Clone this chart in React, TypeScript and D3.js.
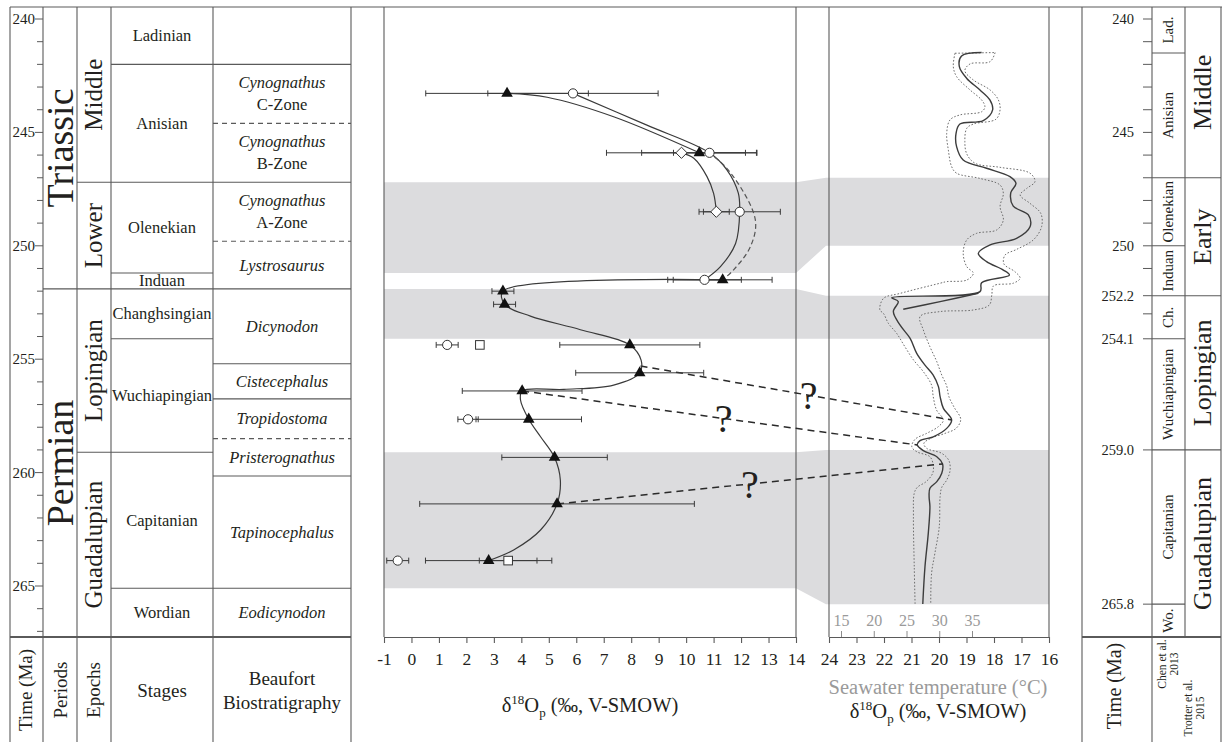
"use client";

import React, { useEffect, useRef } from "react";
import * as d3 from "d3";

// chart extent in Ma
const TOP_AGE = 239.47;
const BASE_AGE = 267.25;

// left column: [label, top age, base age]
const periods: [string, number, number][] = [
  ["Triassic", TOP_AGE, 251.9],
  ["Permian", 251.9, BASE_AGE],
];
const epochs: [string, number, number][] = [
  ["Middle", TOP_AGE, 247.2],
  ["Lower", 247.2, 251.9],
  ["Lopingian", 251.9, 259.1],
  ["Guadalupian", 259.1, BASE_AGE],
];
const stages: [string, number, number][] = [
  ["Ladinian", TOP_AGE, 242.0],
  ["Anisian", 242.0, 247.2],
  ["Olenekian", 247.2, 251.2],
  ["Induan", 251.2, 251.9],
  ["Changhsingian", 251.9, 254.1],
  ["Wuchiapingian", 254.1, 259.1],
  ["Capitanian", 259.1, 265.1],
  ["Wordian", 265.1, BASE_AGE],
];
// Beaufort zones: [genus, sub label, top, base, dashed top boundary]
const zones: [string, string, number, number, boolean][] = [
  ["", "", TOP_AGE, 242.0, false],
  ["Cynognathus", "C-Zone", 242.0, 244.6, false],
  ["Cynognathus", "B-Zone", 244.6, 247.2, true],
  ["Cynognathus", "A-Zone", 247.2, 249.8, false],
  ["Lystrosaurus", "", 249.8, 251.9, true],
  ["Dicynodon", "", 251.9, 255.2, false],
  ["Cistecephalus", "", 255.2, 256.75, false],
  ["Tropidostoma", "", 256.75, 258.5, false],
  ["Pristerognathus", "", 258.5, 260.15, true],
  ["Tapinocephalus", "", 260.15, 265.1, false],
  ["Eodicynodon", "", 265.1, BASE_AGE, false],
];
const leftAgeLabels = [240, 245, 250, 255, 260, 265];

// right column (Chen et al. 2013 / Trotter et al. 2015)
const rightStages: [string, number, number][] = [
  ["Lad.", TOP_AGE, 241.5],
  ["Anisian", 241.5, 247.0],
  ["Olenekian", 247.0, 250.0],
  ["Induan", 250.0, 252.2],
  ["Ch.", 252.2, 254.1],
  ["Wuchiapingian", 254.1, 259.0],
  ["Capitanian", 259.0, 265.8],
  ["Wo.", 265.8, BASE_AGE],
];
const rightEpochs: [string, number, number][] = [
  ["Middle", TOP_AGE, 247.0],
  ["Early", 247.0, 252.2],
  ["Lopingian", 252.2, 259.0],
  ["Guadalupian", 259.0, BASE_AGE],
];
const rightAgeLabels = ["240", "245", "250", "252.2", "254.1", "259.0", "265.8"];
const rightMinorTicks = [241, 242, 243, 244, 246, 247, 248, 249, 251, 253];

// grey bands [top, base] in each panel
const mainBands: [number, number][] = [[247.2, 251.2], [251.9, 254.1], [259.1, 265.1]];
const swBands: [number, number][] = [[247.0, 250.0], [252.2, 254.1], [259.0, 265.8]];

// d18Op of the vertebrate groups: [age, value, 1 sd]
const triangles: [number, number, number][] = [
  [243.28, 3.48, 2.96], [245.9, 10.48, 2.1], [251.5, 11.33, 1.8], [252.0, 3.33, 0.4],
  [252.58, 3.39, 0.4], [254.37, 7.95, 2.55], [255.6, 8.31, 2.33], [256.4, 4.03, 2.18],
  [257.65, 4.27, 1.92], [259.33, 5.21, 1.92], [261.38, 5.3, 5.0], [263.88, 2.81, 2.3],
];
const circles: [number, number, number][] = [
  [243.28, 5.88, 3.1], [245.9, 10.85, 1.31], [248.5, 11.95, 1.48], [251.5, 10.67, 1.34],
  [254.37, 1.3, 0.4], [257.65, 2.06, 0.37], [263.88, -0.5, 0.4],
];
const diamonds: [number, number, number][] = [[245.9, 9.83, 2.73], [248.5, 11.1, 0.47]];
const squares: [number, number, number][] = [[254.37, 2.49, 0.12], [263.88, 3.52, 1.05]];

// trend lines: [age, value]
const triTrendTop: [number, number][] = [[243.28, 3.48], [243.45, 4.94], [244.31, 7.36], [245.9, 10.48]];
const triTrendDashed: [number, number][] = [
  [245.9, 10.48], [246.07, 11.0], [246.95, 11.72], [248.86, 12.52], [250.04, 12.34], [251.07, 11.72], [251.5, 11.33],
];
const triTrendLower: [number, number][] = [
  [251.5, 11.33], [252.0, 3.33], [252.58, 3.39], [253.1, 4.33], [253.7, 6.15], [254.37, 7.95],
  [255.04, 8.36], [255.6, 8.31], [256.14, 7.36], [256.33, 5.55], [256.4, 4.03], [256.8, 3.97],
  [257.65, 4.27], [258.42, 4.7], [259.33, 5.21], [260.33, 5.42], [261.38, 5.3], [262.53, 4.7],
  [263.41, 3.72], [263.88, 2.81],
];
const circleTrend: [number, number][] = [
  [243.28, 5.88], [244.67, 8.55], [245.9, 10.85], [246.66, 11.49], [247.68, 11.9], [248.5, 11.95],
  [249.9, 11.8], [250.92, 11.25], [251.5, 10.67],
];
const diamondTrend: [number, number][] = [[245.9, 9.83], [246.14, 10.28], [246.95, 10.76], [247.69, 11.0], [248.5, 11.1]];

// conodont d18O record (seawater panel): [age, d18O]
const swMid: [number, number][] = [
  [241.48, 18.45], [241.63, 19.18], [242.1, 19.26], [242.62, 18.99], [243.13, 18.51], [243.57, 18.15],
  [244.01, 18.05], [244.48, 18.39], [244.63, 19.24], [245.04, 19.38], [245.63, 19.36], [246.22, 19.12],
  [246.58, 18.27], [246.95, 17.42], [247.25, 17.2], [247.66, 17.39], [248.25, 17.3], [248.64, 16.75],
  [249.16, 16.69], [249.67, 17.18], [249.96, 18.14], [250.33, 18.57], [250.7, 18.27], [251.07, 17.66],
  [251.29, 17.44], [251.63, 18.45], [252.02, 18.51], [252.29, 21.72], [252.46, 21.48], [252.9, 21.66],
  [253.49, 21.42], [254.08, 21.05], [254.74, 20.81], [255.26, 20.51], [255.7, 20.21], [256.21, 20.02],
  [256.65, 19.96], [257.17, 19.84], [257.68, 19.54], [258.05, 19.72], [258.42, 20.21], [258.59, 20.69],
  [258.78, 20.79], [259.03, 20.57], [259.3, 20.08], [259.62, 19.87], [260.03, 19.9], [260.4, 20.08],
  [260.69, 20.33], [261.06, 20.36], [261.5, 20.33], [262.68, 20.39], [264.15, 20.51], [265.79, 20.59],
];
const swBranch: [number, number][] = [[252.1, 18.57], [252.46, 19.96], [252.8, 21.3]];
const swHighD: [number, number][] = [
  [241.51, 19.42], [242.1, 19.48], [242.54, 19.36], [243.13, 18.87], [243.57, 18.45], [243.87, 18.33],
  [244.09, 18.45], [244.23, 19.24], [244.45, 19.6], [245.04, 19.72], [245.78, 19.66], [246.51, 19.54],
  [246.8, 19.36], [247.03, 18.51], [247.32, 17.78], [247.69, 17.66], [248.27, 17.78], [248.86, 17.66],
  [249.3, 17.9], [249.45, 18.63], [249.74, 18.99], [250.33, 19.12], [250.92, 18.99], [251.21, 18.75],
  [251.51, 18.99], [251.58, 19.72], [251.65, 19.96], [252.1, 21.42], [252.32, 22.02], [252.83, 22.15],
  [252.98, 22.02], [253.42, 21.84], [253.86, 21.54], [254.45, 21.24], [255.03, 20.93], [255.55, 20.57],
  [256.14, 20.27], [256.65, 20.21], [257.24, 20.09], [257.68, 19.84], [257.97, 20.02], [258.27, 20.45],
  [258.53, 20.87], [258.86, 20.99], [259.08, 20.81], [259.3, 20.33], [259.67, 20.21], [260.03, 20.23],
  [260.4, 20.47], [260.65, 20.79], [260.91, 20.9], [261.94, 20.93], [264.15, 20.9], [265.79, 20.87],
];
const swLowD: [number, number][] = [
  [241.48, 17.96], [241.88, 18.14], [241.98, 18.87], [242.28, 19.06], [242.69, 18.75], [243.13, 18.14],
  [243.57, 17.84], [244.01, 17.78], [244.42, 17.93], [244.63, 18.75], [244.82, 18.99], [245.41, 19.06],
  [245.95, 18.99], [246.36, 18.69], [246.54, 17.78], [246.8, 16.69], [247.17, 16.51], [247.47, 16.81],
  [247.76, 17.05], [248.13, 16.69], [248.57, 16.3], [249.16, 16.27], [249.74, 16.57], [250.16, 17.18],
  [250.41, 17.6], [250.8, 17.64], [251.14, 17.24], [251.43, 17.05], [251.65, 17.3], [251.77, 18.02],
  [252.17, 18.08], [252.61, 18.17], [252.83, 18.75], [252.9, 19.96], [253.12, 20.69], [253.71, 20.57],
  [254.45, 20.33], [255.11, 20.08], [255.7, 19.9], [256.18, 19.72], [256.65, 19.64], [257.12, 19.45],
  [257.65, 19.21], [258.05, 19.38], [258.27, 19.78], [258.49, 20.3], [258.71, 20.55], [258.93, 20.45],
  [259.15, 19.9], [259.47, 19.64], [259.92, 19.6], [260.33, 19.72], [260.65, 19.9], [261.06, 19.96],
  [262.38, 19.99], [263.56, 20.15], [264.44, 20.27], [265.79, 20.3],
];

// uncertain correlations: main panel [age, value] -> seawater panel [age, d18O], "?" position along the line
const correlations: { from: [number, number]; to: [number, number]; q: number }[] = [
  { from: [255.3, 8.34], to: [257.68, 19.54], q: 0.54 },
  { from: [256.4, 4.03], to: [258.78, 20.79], q: 0.51 },
  { from: [261.38, 5.3], to: [259.62, 19.87], q: 0.5 },
];

const mainTicks = d3.range(-1, 15);
const swTicks = d3.range(16, 25);
const tempTicks = [15, 20, 25, 30, 35];

const FONT = "'Liberation Serif', 'Times New Roman', Times, serif";
const INK = "#231f20";
const RULE = "#5a5a5a";

const App: React.FC = () => {
  const svgRef = useRef<SVGSVGElement | null>(null);

  useEffect(() => {
    const svg = d3.select(svgRef.current);
    svg.selectAll("*").remove();

    const y = d3.scaleLinear().domain([240, 265]).range([19, 586]);
    const xMain = d3.scaleLinear().domain([-1, 14]).range([384, 796]);
    const xSw = d3.scaleLinear().domain([24, 16]).range([829, 1049]);
    const xTemp = d3.scaleLinear().domain([15, 35]).range([841, 972]);

    const yTop = y(TOP_AGE);
    const yBase = y(BASE_AGE);
    const H = 742;

    const text = (
      x: number, yy: number, s: string, size: number,
      o: { italic?: boolean; rot?: boolean; anchor?: string; fill?: string } = {}
    ) => {
      const t = svg.append("text")
        .attr("x", x).attr("y", yy)
        .attr("font-family", FONT).attr("font-size", size)
        .attr("fill", o.fill || INK)
        .attr("text-anchor", o.anchor || "middle")
        .attr("dominant-baseline", "central")
        .text(s);
      if (o.italic) t.attr("font-style", "italic");
      if (o.rot) t.attr("transform", `rotate(-90 ${x} ${yy})`);
      return t;
    };
    const hline = (x0: number, x1: number, yy: number, dash?: string, w = 1.1) => {
      const l = svg.append("line").attr("x1", x0).attr("x2", x1).attr("y1", yy).attr("y2", yy)
        .attr("stroke", RULE).attr("stroke-width", w);
      if (dash) l.attr("stroke-dasharray", dash);
    };
    const vline = (x: number, y0: number, y1: number, w = 1.1) => {
      svg.append("line").attr("x1", x).attr("x2", x).attr("y1", y0).attr("y2", y1)
        .attr("stroke", RULE).attr("stroke-width", w);
    };

    // grey bands with the connectors between panels
    mainBands.forEach((b, i) => {
      const s = swBands[i];
      const pts = [
        [xMain(-1), y(b[0])], [xMain(14), y(b[0])], [826, y(s[0])], [xSw(16), y(s[0])],
        [xSw(16), y(s[1])], [826, y(s[1])], [xMain(14), y(b[1])], [xMain(-1), y(b[1])],
      ];
      svg.append("polygon").attr("points", pts.map((p) => p.join(",")).join(" ")).attr("fill", "#dcdcde");
    });

    // ---------- left stratigraphic column ----------
    const cols = { time: [10, 43], period: [43, 77], epoch: [77, 111], stage: [111, 213], zone: [213, 351] };
    hline(10, 1222, yTop);
    [10, 43, 77, 111, 213, 351].forEach((x) => vline(x, yTop, H));
    hline(10, 351, yBase, undefined, 2);

    d3.range(240, 268).forEach((a) => {
      const major = leftAgeLabels.includes(a);
      svg.append("line").attr("x1", major ? 35 : 37).attr("x2", 43).attr("y1", y(a)).attr("y2", y(a))
        .attr("stroke", RULE).attr("stroke-width", 1);
    });
    leftAgeLabels.forEach((a) => text(35, y(a), String(a), 15, { anchor: "end" }));

    const cellCol = (rows: [string, number, number][], c: number[], size: number, rot: boolean) => {
      rows.forEach(([lab, t, b], i) => {
        if (i > 0) hline(c[0], c[1], y(t));
        text((c[0] + c[1]) / 2, (y(t) + y(b)) / 2, lab, size, { rot });
      });
    };
    cellCol(periods, cols.period, 38, true);
    cellCol(epochs, cols.epoch, 25, true);
    cellCol(stages, cols.stage, 16.5, false);
    zones.forEach(([g, sub, t, b, dashed], i) => {
      if (i > 0) hline(cols.zone[0], cols.zone[1], y(t), dashed ? "5,4" : undefined);
      const cx = (cols.zone[0] + cols.zone[1]) / 2;
      const cy = (y(t) + y(b)) / 2;
      if (sub) {
        text(cx, cy - 11, g, 16.5, { italic: true });
        text(cx, cy + 11, sub, 16.5);
      } else if (g) {
        text(cx, cy, g, 16.5, { italic: true });
      }
    });

    text(25, 690, "Time (Ma)", 19, { rot: true });
    text(60, 690, "Periods", 19, { rot: true });
    text(93, 690, "Epochs", 19, { rot: true });
    text(162, 690, "Stages", 19);
    text(282, 678, "Beaufort", 19);
    text(282, 702, "Biostratigraphy", 19);

    // ---------- main d18Op panel ----------
    vline(xMain(-1), yTop, yBase);
    vline(xMain(14), yTop, yBase);
    const mainAxis = svg.append("g").attr("transform", `translate(0,${yBase})`)
      .call(d3.axisBottom(xMain).tickValues(mainTicks).tickSize(6).tickSizeOuter(0).tickPadding(10).tickFormat((d) => String(d)));
    mainAxis.attr("font-family", FONT).attr("font-size", 17.5);
    mainAxis.selectAll("path, line").attr("stroke", RULE).attr("stroke-width", 1.1);
    mainAxis.selectAll("text").attr("fill", INK);

    const title = (cx: number, yy: number) => {
      const t = svg.append("text").attr("x", cx).attr("y", yy).attr("font-family", FONT)
        .attr("font-size", 20.5).attr("fill", INK).attr("text-anchor", "middle");
      t.append("tspan").text("δ");
      t.append("tspan").attr("dy", -8).attr("font-size", 13).text("18");
      t.append("tspan").attr("dy", 8).text("O");
      t.append("tspan").attr("dy", 5).attr("font-size", 13).text("p");
      t.append("tspan").attr("dy", -5).text(" (‰, V-SMOW)");
    };
    title(590, 712);

    // ---------- seawater panel ----------
    vline(xSw(24), yTop, yBase);
    vline(xSw(16), yTop, yBase);
    const swAxis = svg.append("g").attr("transform", `translate(0,${yBase})`)
      .call(d3.axisBottom(xSw).tickValues(swTicks).tickSize(6).tickSizeOuter(0).tickPadding(10).tickFormat((d) => String(d)));
    swAxis.attr("font-family", FONT).attr("font-size", 17.5);
    swAxis.selectAll("path, line").attr("stroke", RULE).attr("stroke-width", 1.1);
    swAxis.selectAll("text").attr("fill", INK);
    const tAxis = svg.append("g").attr("transform", `translate(0,${yBase})`)
      .call(d3.axisTop(xTemp).tickValues(tempTicks).tickSize(6).tickPadding(5));
    tAxis.attr("font-family", FONT).attr("font-size", 16);
    tAxis.select(".domain").remove();
    tAxis.selectAll("line").attr("stroke", "#8c8c8c");
    tAxis.selectAll("text").attr("fill", "#9a9a9a");
    text(938, 687, "Seawater temperature (°C)", 20.5, { fill: "#9a9a9a" });
    title(938, 718);

    const swLine = d3.line<[number, number]>().x((d) => xSw(d[1])).y((d) => y(d[0])).curve(d3.curveCatmullRom.alpha(0.5));
    [swHighD, swLowD].forEach((d) =>
      svg.append("path").attr("d", swLine(d)).attr("fill", "none").attr("stroke", "#6e6e6e")
        .attr("stroke-width", 1).attr("stroke-dasharray", "1.6,1.8"));
    svg.append("line")
      .attr("x1", xSw(swHighD[0][1])).attr("y1", y(swHighD[0][0]))
      .attr("x2", xSw(swLowD[0][1])).attr("y2", y(swLowD[0][0]))
      .attr("stroke", "#6e6e6e").attr("stroke-width", 1).attr("stroke-dasharray", "1.6,1.8");
    [swMid, swBranch].forEach((d) =>
      svg.append("path").attr("d", swLine(d)).attr("fill", "none").attr("stroke", "#3c3c3c").attr("stroke-width", 1.4));

    // ---------- right time scale ----------
    const rc = { time: [1082, 1152], stage: [1152, 1185], epoch: [1185, 1221] };
    [1082, 1152, 1221].forEach((x) => vline(x, yTop, H));
    vline(1185, yTop, yBase);
    hline(1082, 1221, yBase, undefined, 2);
    const rightAges = rightAgeLabels.map(Number);
    [...rightAges, ...rightMinorTicks].forEach((a) => {
      svg.append("line").attr("x1", 1143).attr("x2", 1152).attr("y1", y(a)).attr("y2", y(a))
        .attr("stroke", RULE).attr("stroke-width", 1);
    });
    rightAgeLabels.forEach((s, i) => text(1134, y(rightAges[i]), s, 14.5, { anchor: "end" }));
    cellCol(rightStages, rc.stage, 15, true);
    cellCol(rightEpochs, rc.epoch, 26, true);
    text(1114, 686, "Time (Ma)", 20, { rot: true });
    text(1162, 664, "Chen et al.", 11.5, { rot: true });
    text(1174, 664, "2013", 11.5, { rot: true });
    text(1188, 708, "Trotter et al.", 11.5, { rot: true });
    text(1200, 708, "2015", 11.5, { rot: true });

    // ---------- uncertain correlations ----------
    correlations.forEach(({ from, to, q }) => {
      const x1 = xMain(from[1]), y1 = y(from[0]);
      const x2 = xSw(to[1]), y2 = y(to[0]);
      svg.append("line").attr("x1", x1).attr("y1", y1).attr("x2", x2).attr("y2", y2)
        .attr("stroke", "#2a2a2a").attr("stroke-width", 1.5).attr("stroke-dasharray", "7,5");
      svg.append("text").attr("x", x1 + (x2 - x1) * q).attr("y", y1 + (y2 - y1) * q + 14)
        .attr("font-family", FONT).attr("font-size", 40).attr("fill", INK)
        .attr("text-anchor", "middle").text("?");
    });

    // ---------- error bars, trends and symbols ----------
    const bars = svg.append("g").attr("stroke", "#3a3a3a").attr("stroke-width", 1);
    [...triangles, ...circles, ...diamonds, ...squares].forEach(([a, v, e]) => {
      const yy = y(a);
      bars.append("line").attr("x1", xMain(v - e)).attr("x2", xMain(v + e)).attr("y1", yy).attr("y2", yy);
      [v - e, v + e].forEach((c) =>
        bars.append("line").attr("x1", xMain(c)).attr("x2", xMain(c)).attr("y1", yy - 3).attr("y2", yy + 3));
    });

    const trend = d3.line<[number, number]>().x((d) => xMain(d[1])).y((d) => y(d[0])).curve(d3.curveCatmullRom.alpha(0.5));
    [triTrendTop, triTrendLower, circleTrend, diamondTrend].forEach((d) =>
      svg.append("path").attr("d", trend(d)).attr("fill", "none").attr("stroke", "#3a3a3a").attr("stroke-width", 1.2));
    svg.append("path").attr("d", trend(triTrendDashed)).attr("fill", "none").attr("stroke", "#555")
      .attr("stroke-width", 1.2).attr("stroke-dasharray", "5,3");

    const sym = svg.append("g");
    circles.forEach(([a, v]) =>
      sym.append("circle").attr("cx", xMain(v)).attr("cy", y(a)).attr("r", 4.6)
        .attr("fill", "#fff").attr("stroke", "#333").attr("stroke-width", 1));
    squares.forEach(([a, v]) =>
      sym.append("rect").attr("x", xMain(v) - 4.3).attr("y", y(a) - 4.3).attr("width", 8.6).attr("height", 8.6)
        .attr("fill", "#fff").attr("stroke", "#333").attr("stroke-width", 1));
    diamonds.forEach(([a, v]) =>
      sym.append("path").attr("transform", `translate(${xMain(v)},${y(a)})`)
        .attr("d", "M0,-5.6L5.6,0L0,5.6L-5.6,0Z").attr("fill", "#fff").attr("stroke", "#333").attr("stroke-width", 1));
    triangles.forEach(([a, v]) =>
      sym.append("path").attr("transform", `translate(${xMain(v)},${y(a)})`)
        .attr("d", d3.symbol(d3.symbolTriangle, 58)()).attr("fill", "#111"));
  }, []);

  return (
    <svg
      ref={svgRef}
      width={1222}
      height={742}
      style={{ position: "absolute", left: 0, top: 0, background: "#fff" }}
    />
  );
};

export default App;
